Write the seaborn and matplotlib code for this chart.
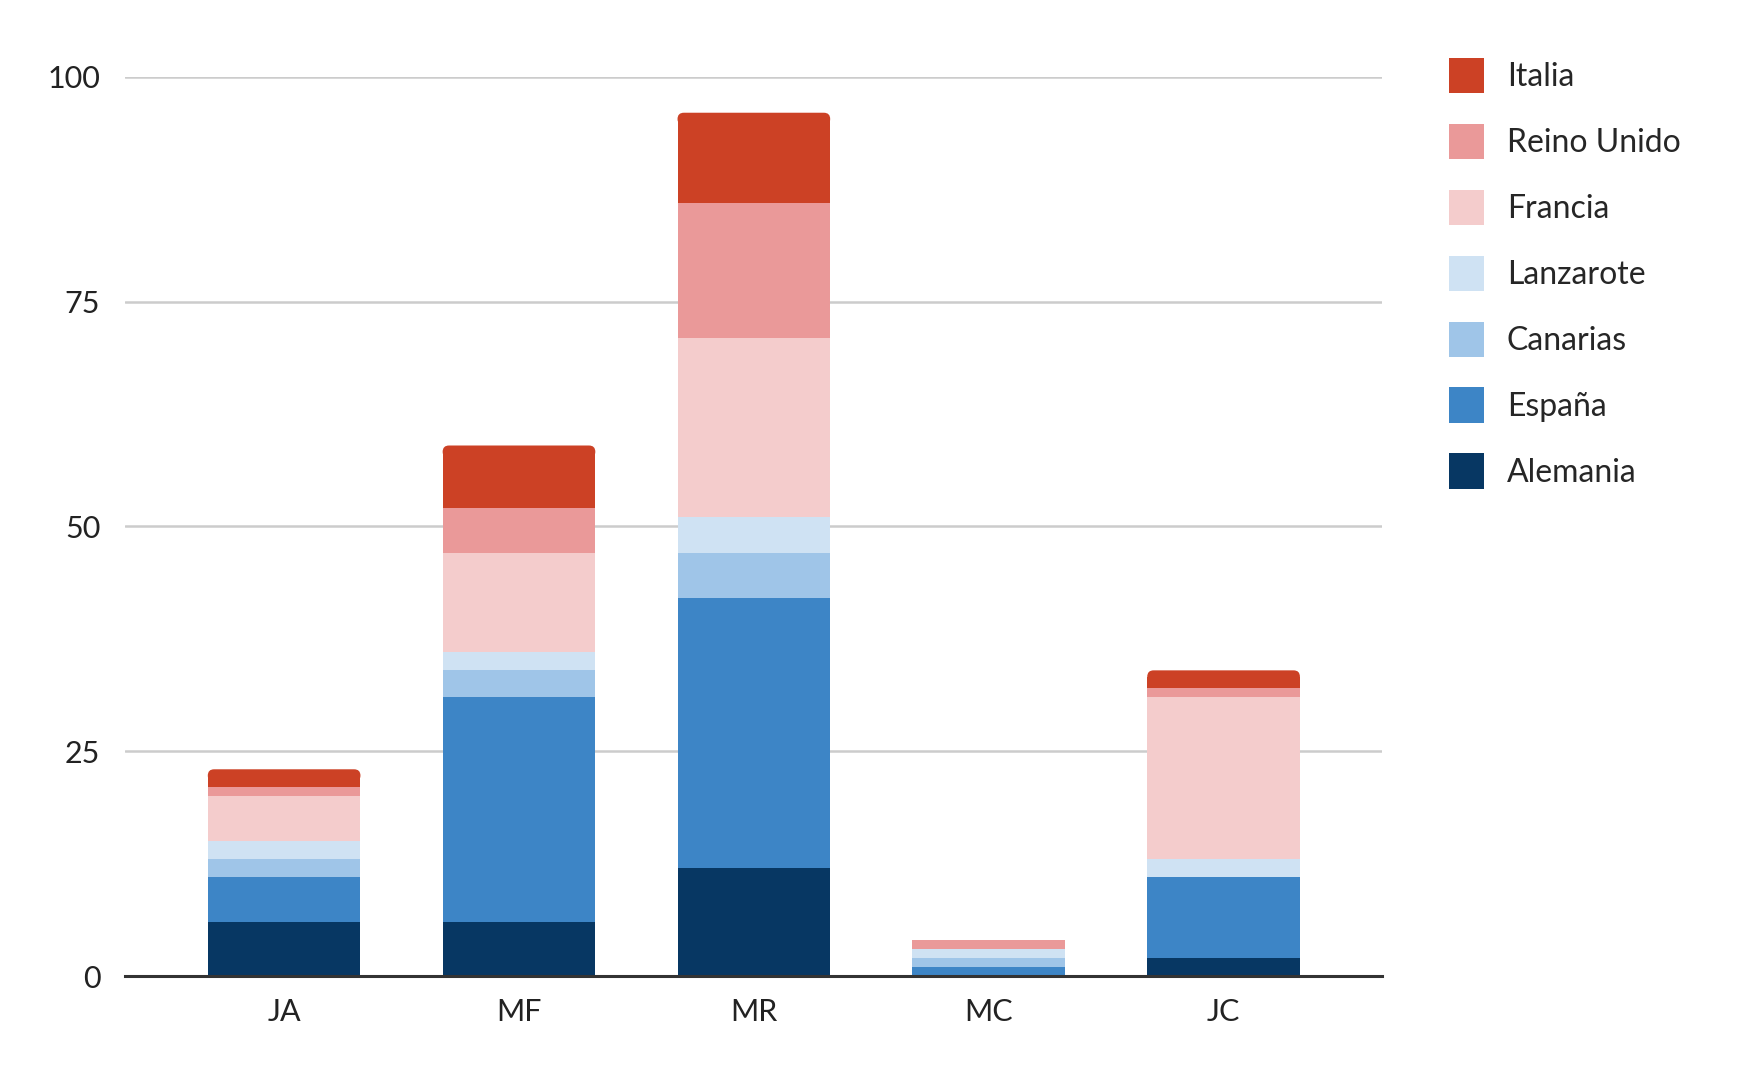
import numpy as np
import pandas as pd
import seaborn as sns
import matplotlib.pyplot as plt
from matplotlib.patches import Patch, FancyBboxPatch

categorias = ['JA', 'MF', 'MR', 'MC', 'JC']

# valores por serie (de abajo hacia arriba)
alemania = [6, 6, 12, 0, 2]
espana = [5, 25, 30, 1, 9]
canarias = [2, 3, 5, 1, 0]
lanzarote = [2, 2, 4, 1, 2]
francia = [5, 11, 20, 0, 18]
reino_unido = [1, 5, 15, 1, 1]
italia = [2, 7, 10, 0, 2]

series = ['Alemania', 'España', 'Canarias', 'Lanzarote', 'Francia', 'Reino Unido', 'Italia']
valores = [alemania, espana, canarias, lanzarote, francia, reino_unido, italia]
colores = ['#073763', '#3d85c6', '#9fc5e8', '#cfe2f3', '#f4cccc', '#ea9999', '#cc4125']

sns.set_style('white')
plt.rcParams['font.family'] = ['Lato', 'DejaVu Sans']

fig = plt.figure(figsize=(17.41, 10.81), dpi=100)
ax = fig.add_axes([0.072, 0.097, 0.722, 0.832])

base = np.zeros(len(categorias))
for nombre, vals, col in zip(series, valores, colores):
    df = pd.DataFrame({'cat': categorias, 'val': vals})
    sns.barplot(data=df, x='cat', y='val', bottom=base, color=col, width=0.65,
                linewidth=0, saturation=1, ax=ax, zorder=3)
    base = base + np.array(vals)

ax.set_xlim(-0.676, 4.676)
ax.set_ylim(0, 100)

# esquinas superiores redondeadas en el segmento de arriba de cada barra
ry = 0.7
rx = 0.027
for j in range(len(categorias)):
    tops = [i for i in range(len(series)) if valores[i][j] > 0]
    if not tops:
        continue
    rect = ax.containers[tops[-1]].patches[j]
    x0, y0 = rect.get_x(), rect.get_y()
    w, h = rect.get_width(), rect.get_height()
    if h < 1.5:
        continue
    rect.set_height(h - ry)
    box = FancyBboxPatch((x0, y0 + h - 2 * ry), w, 2 * ry,
                         boxstyle=f'round,pad=0,rounding_size={rx}',
                         mutation_aspect=ry / rx, facecolor=rect.get_facecolor(),
                         edgecolor='none', linewidth=0, zorder=3)
    ax.add_patch(box)

ax.set_yticks([0, 25, 50, 75, 100])
ax.yaxis.grid(True, color='#cccccc', linewidth=1.8, zorder=0)
ax.xaxis.grid(False)
for s in ['top', 'right', 'left']:
    ax.spines[s].set_visible(False)
ax.spines['bottom'].set_color('#333333')
ax.spines['bottom'].set_linewidth(2.2)
ax.spines['bottom'].set_zorder(4)
ax.tick_params(length=0, labelsize=22, colors='#222222')
ax.tick_params(axis='x', pad=16)
ax.tick_params(axis='y', pad=18)
ax.set_xlabel('')
ax.set_ylabel('')

handles = [Patch(facecolor=c, edgecolor='none') for c in colores[::-1]]
fig.legend(handles, series[::-1], loc='upper left', bbox_to_anchor=(0.832, 0.9466),
           frameon=False, fontsize=23, handlelength=1.11, handleheight=1.33,
           handletextpad=0.72, labelspacing=0.955, borderaxespad=0, borderpad=0)

fig.savefig('out.png', dpi=100, facecolor='white')
